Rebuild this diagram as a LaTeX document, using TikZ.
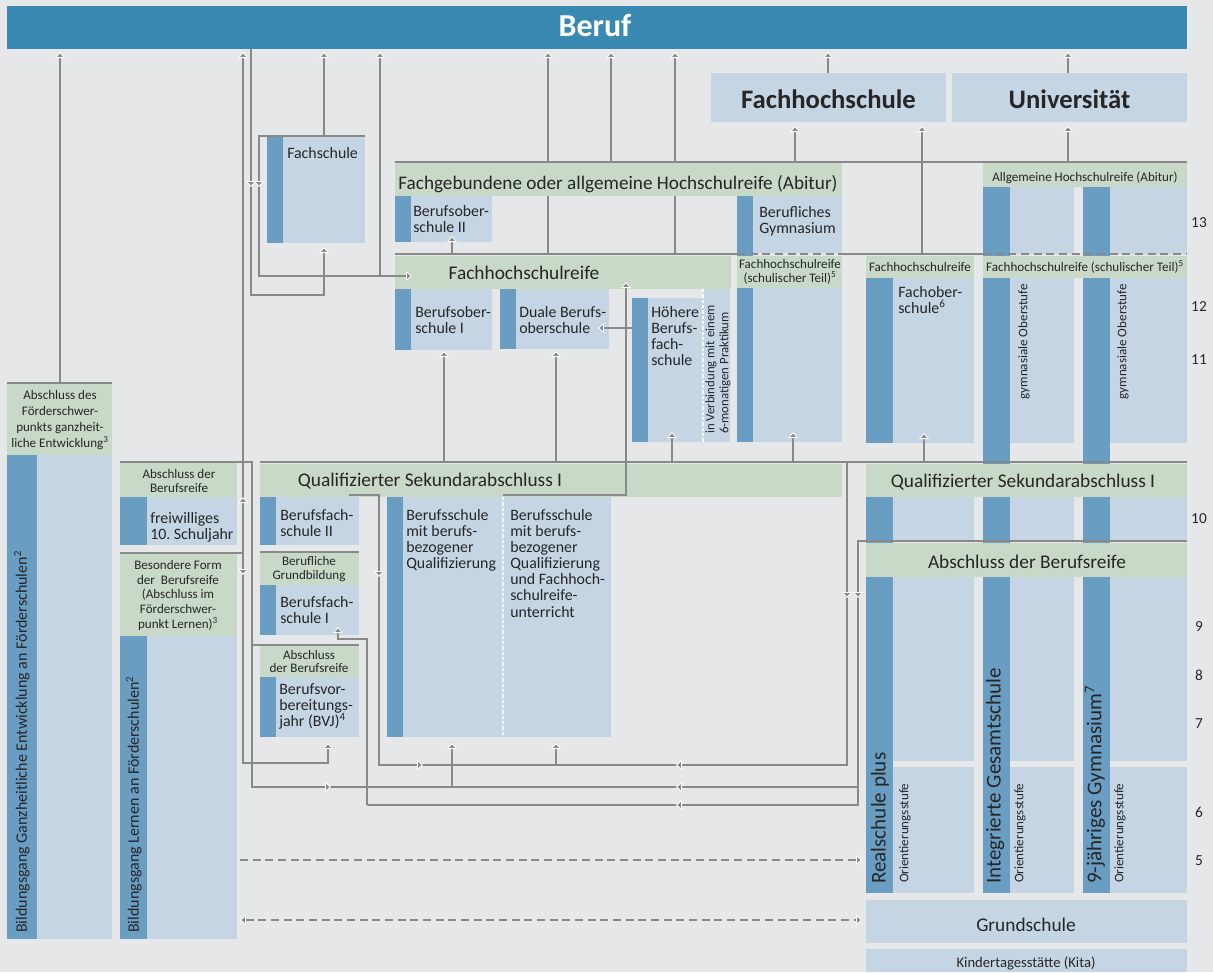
\documentclass[tikz,border=0pt]{standalone}
\usepackage{fontspec}
\setmainfont{Carlito}
\usetikzlibrary{arrows.meta}
\usetikzlibrary{fit}

\definecolor{paper}{HTML}{E6E7E9}
\definecolor{berufblue}{HTML}{3A89B2}
\definecolor{stripe}{HTML}{6A9DC2}
\definecolor{pale}{HTML}{C5D5E4}
\definecolor{sage}{HTML}{C9D9C7}
\definecolor{wire}{HTML}{898989}
\definecolor{ink}{HTML}{262626}

\newcommand{\fsbody}{\fontsize{11.9}{12.1}\selectfont}
\newcommand{\fssmall}{\fontsize{9.8}{10.2}\selectfont}
\newcommand{\fshead}{\fontsize{14.5}{16}\selectfont}
\newcommand{\fsrot}{\fontsize{15.8}{17}\selectfont}
\newcommand{\fsnum}{\fontsize{11.5}{13}\selectfont}
\newcommand{\fsuni}{\fontsize{20}{22}\selectfont\bfseries}

% box of a school form: style, name, corners in pixels
\newcommand{\schoolbox}[6]{\node[#1, fit={(#3,#4) (#5,#6)}] (#2) {};}

\tikzset{
	>={Triangle[width=7.5pt,length=4.5pt,color=white,fill=wire,line width=0.6pt]},
	box/.style={inner sep=0pt, outer sep=0pt, draw=none},
	db/.style={box, fill=stripe},
	lb/.style={box, fill=pale},
	gb/.style={box, fill=sage},
	txt/.style={inner sep=0pt, text=ink, align=left, anchor=north west, font=\fsbody},
	head/.style={inner sep=0pt, text=ink, anchor=base, font=\fshead},
	small/.style={inner sep=0pt, text=ink, align=center, font=\fssmall},
	rot/.style={inner sep=0pt, text=ink, rotate=90, anchor=west, align=left},
	num/.style={inner sep=0pt, text=ink, anchor=base, font=\fsnum},
	conn/.style={draw=wire, line width=2pt},
	dashy/.style={dash pattern=on 6pt off 3.5pt},
	seam/.style={draw=white, line width=1.1pt, dash pattern=on 2.5pt off 1.5pt},
}

\begin{document}
\begin{tikzpicture}[x=0.75pt, y=-0.75pt]
	\fill[paper] (0,0) rectangle (1213,972);

	% Beruf, Hochschulen
	\schoolbox{box, fill=berufblue}{beruf}{7}{6}{1187}{49}
	\node[head, text=white, font=\fontsize{24}{26}\selectfont\bfseries] (berufT) at (595,36) {Beruf};
	\schoolbox{lb}{fh}{711}{73}{946}{122}
	\node[head, font=\fsuni] (fhT) at (828.5,108) {Fachhochschule};
	\schoolbox{lb}{uni}{952}{73}{1187}{122}
	\node[head, font=\fsuni] (uniT) at (1069.5,108) {Universität};

	% Fachschule
	\schoolbox{db}{fsS}{267}{137}{283}{243}
	\schoolbox{lb}{fs}{283}{137}{365}{243}
	\node[txt] (fsT) at (287,147) {Fachschule};

	% Sekundarstufe II, berufsbildend
	\schoolbox{db}{bos2S}{395}{196}{411}{242}
	\schoolbox{lb}{bos2}{411}{196}{492}{242}
	\node[txt] (bos2T) at (413,205) {Berufsober-\\schule II};
	\schoolbox{db}{bgS}{737}{196}{753}{442}
	\schoolbox{lb}{bg}{753}{196}{842}{253}
	\schoolbox{lb}{fhrstB}{753}{288}{842}{442}
	\node[txt] (bgT) at (759,206) {Berufliches\\Gymnasium};
	\schoolbox{db}{bos1S}{395}{289}{411}{350}
	\schoolbox{lb}{bos1}{411}{289}{492}{350}
	\node[txt] (bos1T) at (415,306) {Berufsober-\\schule I};
	\schoolbox{db}{dbosS}{500}{289}{516}{349}
	\schoolbox{lb}{dbos}{516}{289}{609}{349}
	\node[txt] (dbosT) at (519,306) {Duale Berufs-\\oberschule};
	\schoolbox{db}{hbfS}{632}{298}{648}{442}
	\schoolbox{lb}{hbf}{648}{298}{703}{442}
	\schoolbox{lb}{prak}{703}{289}{730}{442}
	\node[txt] (hbfT) at (651,306) {Höhere\\Berufs-\\fach-\\schule};
	\node[rot, font=\fontsize{9.6}{10.4}\selectfont] (prakT) at (718,434) {in Verbindung mit einem\\6-monatigen Praktikum};
	\schoolbox{gb}{fgh}{395}{163}{842}{196}
	\node[head, font=\fontsize{14.4}{16}\selectfont] (fghT) at (618,189) {Fachgebundene oder allgemeine Hochschulreife (Abitur)};
	\schoolbox{gb}{fhr}{395}{256}{731}{289}
	\node[head] (fhrT) at (524,279) {Fachhochschulreife};
	\schoolbox{gb}{fhrst}{737}{256}{842}{288}
	\node[small] (fhrstT) at (790,272) {Fachhochschulreife\\(schulischer Teil)\textsuperscript{5}};

	% Fachoberschule
	\schoolbox{db}{fosS}{866}{278}{893}{443}
	\schoolbox{lb}{fos}{893}{278}{974}{443}
	\schoolbox{gb}{fosH}{866}{256}{974}{278}
	\node[small, anchor=base] (fosHT) at (920,271.5) {Fachhochschulreife};
	\node[txt] (fosT) at (898,286) {Fachober-\\schule\textsuperscript{6}};

	% Saeulen rechts
	\foreach \x in {983,1083}
	{
		\fill[stripe] (\x,187) rectangle (\x+27,893);
	}
	\foreach \x/\w in {1010/1074,1110/1187}
	{
		\fill[pale] (\x,187) rectangle (\w,254);
		\fill[pale] (\x,278) rectangle (\w,443);
		\fill[pale] (\x,497) rectangle (\w,541);
		\fill[pale] (\x,577) rectangle (\w,761);
		\fill[pale] (\x,767) rectangle (\w,893);
	}
	\schoolbox{db}{rsS}{866}{497}{893}{893}
	\fill[pale] (893,497) rectangle (974,541);
	\fill[pale] (893,577) rectangle (974,761);
	\fill[pale] (893,767) rectangle (974,893);
	\schoolbox{gb}{ahr}{983}{163}{1187}{187}
	\node[small, anchor=base] (ahrT) at (1085,181) {Allgemeine Hochschulreife (Abitur)};
	\schoolbox{gb}{fhrg}{983}{256}{1187}{278}
	\node[small, anchor=base] (fhrgT) at (1085,271.5) {Fachhochschulreife (schulischer Teil)\textsuperscript{5}};
	\node[rot, anchor=east, font=\fssmall] (gos1) at (1024,284) {gymnasiale Oberstufe};
	\node[rot, anchor=east, font=\fssmall] (gos2) at (1123,284) {gymnasiale Oberstufe};
	\schoolbox{gb}{qsaR}{866}{464}{1187}{497}
	\node[head] (qsaRT) at (1023,487) {Qualifizierter Sekundarabschluss I};
	\schoolbox{gb}{abrR}{866}{543}{1187}{577}
	\node[head] (abrRT) at (1027,568) {Abschluss der Berufsreife};
	\node[rot, font=\fsrot] (rsT) at (880,884) {Realschule plus};
	\node[rot, font=\fsrot] (igsT) at (995,884) {Integrierte Gesamtschule};
	\node[rot, font=\fsrot] (gymT) at (1095,884) {9-jähriges Gymnasium\textsuperscript{7}};
	\foreach \x/\n in {905/a,1020/b,1120/c}
	{
		\node[rot, font=\fssmall] (ost\n) at (\x,883) {Orientierungsstufe};
	}
	\schoolbox{lb}{gs}{866}{900}{1187}{943}
	\node[head] (gsT) at (1026,931) {Grundschule};
	\schoolbox{lb}{kita}{866}{949}{1187}{972}
	\node[head, font=\fontsize{11}{12}\selectfont] (kitaT) at (1026,967) {Kindertagesstätte (Kita)};
	\foreach \n/\y in {13/227,12/311,11/364,10/523,9/631,8/680,7/728,6/817,5/865}
	{
		\node[num] (k\n) at (1199,\y) {\n};
	}

	% Sekundarstufe I, berufsbildend
	\schoolbox{gb}{qsaL}{260}{464}{842}{497}
	\node[head] (qsaLT) at (430,486) {Qualifizierter Sekundarabschluss I};
	\schoolbox{db}{bfs2S}{260}{497}{276}{545}
	\schoolbox{lb}{bfs2}{276}{497}{359}{545}
	\node[txt] (bfs2T) at (280,509) {Berufsfach-\\schule II};
	\schoolbox{gb}{bgbH}{260}{553}{359}{585}
	\node[small] (bgbHT) at (309,569) {Berufliche\\Grundbildung};
	\schoolbox{db}{bfs1S}{260}{585}{276}{635}
	\schoolbox{lb}{bfs1}{276}{585}{359}{635}
	\node[txt] (bfs1T) at (280,596) {Berufsfach-\\schule I};
	\schoolbox{gb}{bvjH}{260}{646}{359}{677}
	\node[small] (bvjHT) at (309,661.5) {Abschluss\\der Berufsreife};
	\schoolbox{db}{bvjS}{260}{677}{276}{737}
	\schoolbox{lb}{bvj}{276}{677}{359}{737}
	\node[txt] (bvjT) at (279,683) {Berufsvor-\\bereitungs-\\jahr (BVJ)\textsuperscript{4}};
	\schoolbox{db}{bsS}{387}{497}{403}{737}
	\schoolbox{lb}{bs}{403}{497}{611}{737}
	\node[txt] (bsLT) at (406,509) {Berufsschule\\mit berufs-\\bezogener\\Qualifizierung};
	\node[txt] (bsRT) at (510,509) {Berufsschule\\mit berufs-\\bezogener\\Qualifizierung\\und Fachhoch-\\schulreife-\\unterricht};
	\draw[seam] (503,497) -- (503,737);
	\draw[seam] (703,289) -- (703,442);

	% Foerderschulen
	\schoolbox{gb}{geH}{7}{384}{112}{455}
	\node[small, font=\fontsize{9.8}{12}\selectfont] (geHT) at (60,420) {Abschluss des\\Förderschwer-\\punkts ganzheit-\\liche Entwicklung\textsuperscript{3}};
	\schoolbox{db}{geS}{7}{455}{37}{939}
	\schoolbox{lb}{ge}{37}{455}{112}{939}
	\node[rot, font=\fontsize{12}{13}\selectfont] (geT) at (22,933) {Bildungsgang Ganzheitliche Entwicklung an Förderschulen\textsuperscript{2}};
	\schoolbox{gb}{fzH}{120}{463}{237}{497}
	\node[small] (fzHT) at (179,481) {Abschluss der\\Berufsreife};
	\schoolbox{db}{fzS}{120}{497}{147}{545}
	\schoolbox{lb}{fz}{147}{497}{237}{545}
	\node[txt] (fzT) at (150,512) {freiwilliges\\10.\ Schuljahr};
	\schoolbox{gb}{leH}{120}{554}{237}{636}
	\node[small, font=\fontsize{9.8}{11}\selectfont] (leHT) at (178,595.5) {Besondere Form\\der~~Berufsreife\\(Abschluss im\\Förderschwer-\\punkt Lernen)\textsuperscript{3}};
	\schoolbox{db}{leS}{120}{636}{147}{939}
	\schoolbox{lb}{le}{147}{636}{237}{939}
	\node[rot, font=\fontsize{12}{13}\selectfont] (leT) at (134,933) {Bildungsgang Lernen an Förderschulen\textsuperscript{2}};

	% Verbindungen
	\draw[conn] (7,383) -- (112,383);
	\draw[conn] (260,552) -- (359,552);
	\draw[conn] (252,645) -- (359,645);
	\draw[conn,->] (60,383) -- (60,52);
	\draw[conn,->] (120,553) -- (243,553) -- (243,52);
	\draw[conn,->] (243,553) -- (243,763) -- (328,763) -- (328,743);
	\draw[conn,->] (251,49) -- (251,295) -- (324,295) -- (324,247);
	\draw[conn,->] (365,136) -- (259,136) -- (259,276) -- (412,276);
	\draw[conn,->] (324,136) -- (324,52);
	\draw[conn,->] (380,276) -- (380,52);
	\draw[conn] (395,162) -- (1187,162);
	\foreach \x in {548,611,675}
	{
		\draw[conn,->] (\x,162) -- (\x,52);
	}
	\foreach \x in {795,1068}
	{
		\draw[conn,->] (\x,162) -- (\x,126);
	}
	\foreach \x in {828,1068}
	{
		\draw[conn,->] (\x,73) -- (\x,52);
	}
	\draw[conn] (395,254) -- (737,254) (842,254) -- (983,254);
	\draw[conn,dashy] (737,254) -- (842,254) (983,254) -- (1187,254);
	\foreach \x in {548,675}
	{
		\draw[conn] (\x,254) -- (\x,196);
	}
	\draw[conn,->] (922,254) -- (922,126);
	\draw[conn,->] (452,254) -- (452,236);
	\draw[conn] (260,462) -- (1187,462);
	\foreach \x/\y in {444/351,556/351,672/432,793/432,924/433}
	{
		\draw[conn,->] (\x,462) -- (\x,\y);
	}
	\draw[conn,->] (632,328) -- (598,328);
	\draw[conn,->] (503,495) -- (626,495) -- (626,282);
	\draw[conn] (349,495) -- (379,495) -- (379,765) -- (847,765) -- (847,462);
	\draw[conn,->] (556,765) -- (556,743);
	\draw[conn] (120,462) -- (252,462) -- (252,787) -- (858,787);
	\draw[conn] (367,805) -- (858,805) -- (858,541) -- (1187,541);
	\draw[conn,->] (452,787) -- (452,743);
	\draw[conn,->] (367,805) -- (367,639) -- (338,639) -- (338,627);
	\foreach \x/\y/\u/\v in {243/505/243/497, 243/567/243/575, 251/179/251/187, 259/179/259/187,
		379/569/379/577, 415/765/423/765, 323/787/331/787, 684/765/676/765, 684/787/676/787,
		684/805/676/805, 847/590/847/598, 858/590/858/598}
	{
		\draw[conn,->] (\x,\y) -- (\u,\v);
	}
	\draw[conn,dashy,->] (240,860) -- (862,860);
	\draw[conn,dashy,<->] (240,920) -- (862,920);
\end{tikzpicture}
\end{document}
